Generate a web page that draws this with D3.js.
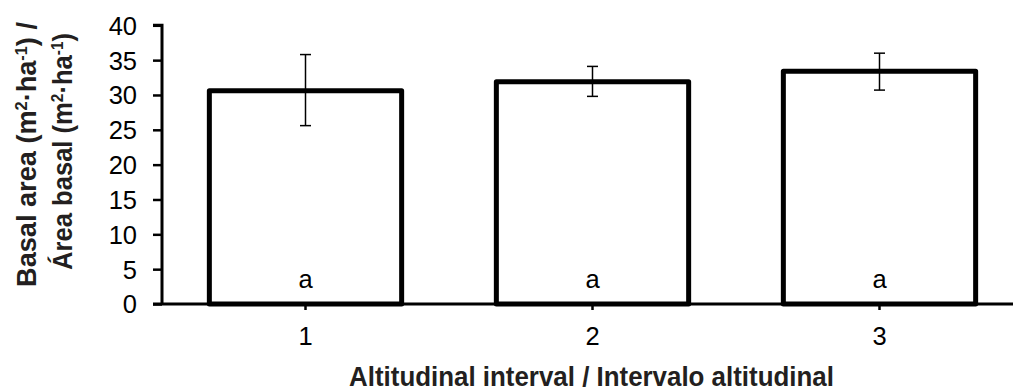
<!DOCTYPE html>
<html>
<head>
<meta charset="utf-8">
<script src="https://cdn.jsdelivr.net/npm/d3@7"></script>
<style>
  html, body { margin: 0; padding: 0; background: #fff; }
  svg { display: block; }
  .tick text { font-family: "Liberation Sans", Arial, sans-serif; }
  .cond { font-family: "Liberation Sans", Arial, sans-serif; font-weight: bold; }
</style>
</head>
<body>
<svg id="chart" width="1013" height="392"></svg>
<script>
// Basal area per altitudinal interval (mean ± error)
const categories = ["1", "2", "3"];
const means = [30.6, 31.9, 33.4];
const errLow = [25.6, 29.8, 30.7];
const errHigh = [35.8, 34.1, 36.0];
const letters = ["a", "a", "a"];
const yTicks = [0, 5, 10, 15, 20, 25, 30, 35, 40];

const svg = d3.select("#chart");

const x = d3.scaleBand().domain(categories).range([162, 1023]).paddingInner(0.33).paddingOuter(0.165);
const y = d3.scaleLinear().domain([0, 40]).range([304, 25.3]);

// bars
svg.append("g").selectAll("rect").data(categories).join("rect")
  .attr("x", d => x(d))
  .attr("y", (d, i) => y(means[i]))
  .attr("width", x.bandwidth())
  .attr("height", (d, i) => y(0) - y(means[i]))
  .attr("fill", "#fff")
  .attr("stroke", "#000")
  .attr("stroke-width", 5)
  .attr("stroke-linejoin", "round");

// error bars
const eb = svg.append("g").attr("stroke", "#000").attr("stroke-width", 1.5);
categories.forEach((c, i) => {
  const cx = x(c) + x.bandwidth() / 2;
  eb.append("line").attr("x1", cx).attr("x2", cx).attr("y1", y(errLow[i])).attr("y2", y(errHigh[i]));
  [errLow[i], errHigh[i]].forEach(v => {
    eb.append("line").attr("x1", cx - 5.5).attr("x2", cx + 5.5).attr("y1", y(v)).attr("y2", y(v));
  });
});

// significance letters
svg.append("g").selectAll("text").data(categories).join("text")
  .attr("x", d => x(d) + x.bandwidth() / 2)
  .attr("y", 288)
  .attr("text-anchor", "middle")
  .attr("font-family", "Liberation Sans, Arial, sans-serif")
  .attr("font-size", 25.5)
  .text((d, i) => letters[i]);

// y axis
const yAxis = svg.append("g").attr("transform", "translate(162,0)")
  .call(d3.axisLeft(y).tickValues(yTicks).tickSize(9).tickPadding(16));
yAxis.select(".domain").attr("stroke-width", 3).attr("d", `M-9,${y(40)}H0V${y(0)}`);
yAxis.selectAll(".tick line").attr("stroke-width", 2.5);
yAxis.selectAll(".tick text").attr("font-size", 25.5).attr("fill", "#000").attr("dy", "0.35em");

// x axis
const xAxis = svg.append("g").attr("transform", `translate(0,${y(0)})`)
  .call(d3.axisBottom(x).tickSize(6).tickPadding(17));
xAxis.select(".domain").attr("stroke-width", 3).attr("d", `M153,0H1023`);
xAxis.selectAll(".tick line").attr("stroke-width", 2.5);
xAxis.selectAll(".tick text").attr("font-size", 25.5).attr("fill", "#000");

// squeeze a text horizontally to a given width around its anchor
function squeeze(sel, width, ax, ay) {
  const w = sel.node().getComputedTextLength();
  const k = width / w;
  sel.attr("transform", `translate(${ax},${ay}) scale(${k},1) translate(${-ax},${-ay})`);
}

// axis titles
const xt = svg.append("text").attr("class", "cond")
  .attr("x", 591.5).attr("y", 386)
  .attr("text-anchor", "middle")
  .attr("font-size", 28.5)
  .attr("fill", "#231f20")
  .text("Altitudinal interval / Intervalo altitudinal");
squeeze(xt, 485, 591.5, 386);

function unitLabel(sel, prefix, suffix) {
  sel.append("tspan").text(prefix + "(m");
  sel.append("tspan").attr("font-size", "0.6em").attr("dy", "-0.55em").text("2");
  sel.append("tspan").attr("dy", "0.33em").text("·ha");
  sel.append("tspan").attr("font-size", "0.6em").attr("dy", "-0.55em").text("-1");
  sel.append("tspan").attr("dy", "0.33em").text(")" + suffix);
}

const yt = svg.append("g").attr("transform", "rotate(-90)");
const l1 = yt.append("text").attr("class", "cond").attr("x", -154.5).attr("y", 36)
  .attr("text-anchor", "middle").attr("font-size", 27).attr("fill", "#231f20");
unitLabel(l1, "Basal area ", " /");
squeeze(l1, 265, -154.5, 36);
const l2 = yt.append("text").attr("class", "cond").attr("x", -151.5).attr("y", 72)
  .attr("text-anchor", "middle").attr("font-size", 27).attr("fill", "#231f20");
unitLabel(l2, "Área basal ", "");
squeeze(l2, 237, -151.5, 72);
</script>
</body>
</html>
